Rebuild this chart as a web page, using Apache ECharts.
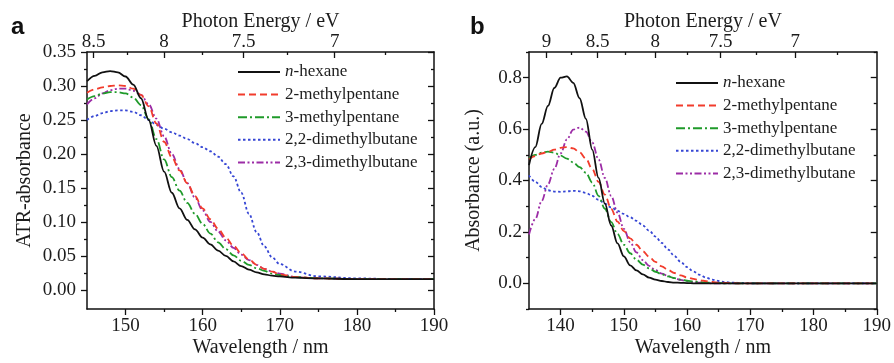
<!DOCTYPE html>
<html>
<head>
<meta charset="utf-8">
<script src="https://cdn.jsdelivr.net/npm/echarts@6/dist/echarts.min.js"></script>
<style>html,body{margin:0;padding:0;background:#fff;}#c{width:894px;height:363px;}</style>
</head>
<body>
<div id="c"></div>
<script>
// ---------- data ----------
const HC = 1239.84; // eV*nm
const seriesNames = ['n-hexane', '2-methylpentane', '3-methylpentane', '2,2-dimethylbutane', '2,3-dimethylbutane'];

// Panel a (ATR-absorbance)
const wlA = [145,146,147,148,149,150,151,152,153,154,155,156,157,158,159,160,161,162,163,164,165,166,167,168,169,170,172,175,180,185,190];
const hexaneA = [0.307,0.315,0.320,0.322,0.320,0.314,0.302,0.282,0.250,0.212,0.174,0.143,0.120,0.103,0.089,0.077,0.067,0.058,0.050,0.042,0.035,0.030,0.026,0.023,0.021,0.020,0.018,0.017,0.016,0.016,0.016];
const mp2A    = [0.290,0.295,0.298,0.300,0.301,0.300,0.296,0.287,0.270,0.245,0.218,0.195,0.176,0.157,0.138,0.120,0.104,0.090,0.077,0.065,0.054,0.045,0.037,0.031,0.027,0.023,0.019,0.017,0.016,0.016,0.016];
const mp3A    = [0.280,0.285,0.289,0.291,0.291,0.289,0.283,0.272,0.251,0.222,0.192,0.166,0.146,0.128,0.112,0.097,0.083,0.070,0.060,0.051,0.043,0.037,0.032,0.028,0.024,0.022,0.019,0.017,0.016,0.016,0.016];
const dmb22A  = [0.250,0.256,0.260,0.263,0.264,0.264,0.262,0.257,0.250,0.243,0.237,0.232,0.227,0.222,0.216,0.210,0.204,0.196,0.185,0.167,0.143,0.112,0.085,0.064,0.048,0.038,0.027,0.020,0.017,0.016,0.016];
const dmb23A  = [0.273,0.282,0.289,0.294,0.296,0.296,0.293,0.287,0.273,0.252,0.226,0.200,0.178,0.157,0.136,0.117,0.100,0.086,0.073,0.062,0.052,0.044,0.037,0.031,0.027,0.024,0.019,0.017,0.016,0.016,0.016];

// Panel b (Absorbance)
const wlB = [135,136,137,138,139,140,141,142,143,144,145,146,147,148,149,150,151,152,153,154,155,156,157,158,159,160,161,162,163,164,165,166,167,168,169,170,175,180,185,190];
const hexaneB = [0.46,0.53,0.62,0.69,0.76,0.80,0.805,0.78,0.72,0.64,0.52,0.41,0.31,0.225,0.155,0.105,0.07,0.05,0.035,0.022,0.014,0.009,0.005,0.003,0.002,0.001,0,0,0,0,0,0,0,0,0,0,0,0,0,0];
const mp2B    = [0.482,0.495,0.505,0.512,0.520,0.527,0.530,0.525,0.510,0.485,0.445,0.395,0.345,0.290,0.240,0.203,0.175,0.150,0.125,0.103,0.083,0.066,0.052,0.040,0.031,0.023,0.017,0.012,0.008,0.005,0.003,0.002,0.001,0,0,0,0,0,0,0];
const mp3B    = [0.485,0.500,0.508,0.512,0.508,0.497,0.485,0.470,0.452,0.430,0.392,0.340,0.290,0.238,0.192,0.150,0.117,0.092,0.073,0.058,0.045,0.035,0.027,0.020,0.014,0.010,0.007,0.005,0.003,0.002,0.001,0,0,0,0,0,0,0,0,0];
const dmb22B  = [0.420,0.395,0.375,0.362,0.357,0.356,0.358,0.360,0.358,0.352,0.340,0.325,0.310,0.295,0.282,0.270,0.257,0.243,0.225,0.205,0.182,0.157,0.131,0.106,0.083,0.063,0.046,0.033,0.022,0.014,0.009,0.005,0.003,0.002,0.001,0,0,0,0,0];
const dmb23B  = [0.19,0.25,0.32,0.385,0.445,0.505,0.56,0.598,0.606,0.590,0.548,0.482,0.410,0.340,0.275,0.212,0.160,0.120,0.090,0.068,0.051,0.038,0.028,0.020,0.013,0.008,0.005,0.003,0.001,0,0,0,0,0,0,0,0,0,0,0];

// tick labels
const wlTicksA = [150,160,170,180,190];
const wlMinorA = [155,165,175,185];
const wlTicksB = [140,150,160,170,180,190];
const wlMinorB = [145,155,165,175,185];
const eTicksA = [8.5,8,7.5,7];
const eMinorA = [8.25,7.75,7.25,6.75];
const eTicksB = [9,8.5,8,7.5,7];
const eMinorB = [8.75,8.25,7.75,7.25,6.75];
const yTicksA = [0,0.05,0.10,0.15,0.20,0.25,0.30,0.35];
const yMinorA = [0.025,0.075,0.125,0.175,0.225,0.275,0.325];
const yTicksB = [0,0.2,0.4,0.6,0.8];
const yMinorB = [-0.1,0.1,0.3,0.5,0.7,0.9];

// ---------- styling ----------
const FONT = '"Liberation Serif", "Times New Roman", serif';
const TXT = '#1c1c1c';
const AX = '#111';
const styles = [
  {color:'#111111', type:'solid'},
  {color:'#f23c2c', type:[7,4]},
  {color:'#1f9a2a', type:[9,3,2,3]},
  {color:'#3646d4', type:[2.5,2.5]},
  {color:'#9c2ca6', type:[7,2.5,2,2.5,2,2.5]}
];

function fmtE(v){ const e = Math.round(HC / v * 4) / 4; return String(e); }

function buildAxes(gi, xr, wlT, wlM, eT, eM, yr, yT, yM, yName, yGap, yMargin, dec){
  const line = {show:true, onZero:false, lineStyle:{color:AX, width:1.5}};
  const noLine = {show:false, onZero:false};
  const tickStyle = {color:AX, width:1.3};
  const base = {gridIndex:gi, type:'value', splitLine:{show:false}};
  const xs = [
    Object.assign({}, base, {position:'bottom', min:xr[0], max:xr[1],
      name:'Wavelength / nm', nameLocation:'middle', nameGap:29, nameMoveOverlap:false,
      nameTextStyle:{fontFamily:FONT, fontSize:20, color:TXT},
      axisLine:line, axisTick:{show:true, inside:false, length:6, customValues:wlT, lineStyle:tickStyle},
      axisLabel:{show:true, customValues:wlT, margin:8, fontFamily:FONT, fontSize:19, color:TXT}}),
    Object.assign({}, base, {position:'bottom', min:xr[0], max:xr[1],
      axisLine:noLine, axisTick:{show:true, inside:false, length:3, customValues:wlM, lineStyle:tickStyle},
      axisLabel:{show:false}}),
    Object.assign({}, base, {position:'top', min:xr[0], max:xr[1],
      name:'Photon Energy / eV', nameLocation:'middle', nameGap:20, nameMoveOverlap:false,
      nameTextStyle:{fontFamily:FONT, fontSize:20, color:TXT},
      axisLine:line, axisTick:{show:true, inside:true, length:6, customValues:eT.map(e=>HC/e), lineStyle:tickStyle},
      axisLabel:{show:true, customValues:eT.map(e=>HC/e), formatter:fmtE, margin:0, fontFamily:FONT, fontSize:19, color:TXT}}),
    Object.assign({}, base, {position:'top', min:xr[0], max:xr[1],
      axisLine:noLine, axisTick:{show:true, inside:true, length:3, customValues:eM.map(e=>HC/e), lineStyle:tickStyle},
      axisLabel:{show:false}})
  ];
  const ys = [
    Object.assign({}, base, {position:'left', min:yr[0], max:yr[1],
      name:yName, nameLocation:'middle', nameGap:yGap, nameRotate:90, nameMoveOverlap:false,
      nameTextStyle:{fontFamily:FONT, fontSize:20, color:TXT},
      axisLine:line, axisTick:{show:true, inside:false, length:6, customValues:yT, lineStyle:tickStyle},
      axisLabel:{show:true, customValues:yT, formatter:v=>v.toFixed(dec), margin:yMargin, fontFamily:FONT, fontSize:19, color:TXT}}),
    Object.assign({}, base, {position:'left', min:yr[0], max:yr[1],
      axisLine:noLine, axisTick:{show:true, inside:false, length:3, customValues:yM, lineStyle:tickStyle},
      axisLabel:{show:false}}),
    Object.assign({}, base, {position:'right', min:yr[0], max:yr[1],
      axisLine:line, axisTick:{show:true, inside:true, length:6, customValues:yT, lineStyle:tickStyle},
      axisLabel:{show:false}}),
    Object.assign({}, base, {position:'right', min:yr[0], max:yr[1],
      axisLine:noLine, axisTick:{show:true, inside:true, length:3, customValues:yM, lineStyle:tickStyle},
      axisLabel:{show:false}})
  ];
  return {xs, ys};
}

const axA = buildAxes(0, [145,190], wlTicksA, wlMinorA, eTicksA, eMinorA, [-0.028,0.35], yTicksA, yMinorA, 'ATR-absorbance', 52, 11, 2);
const axB = buildAxes(1, [135,190], wlTicksB, wlMinorB, eTicksB, eMinorB, [-0.1,0.9], yTicksB, yMinorB, 'Absorbance (a.u.)', 45, 7, 1);

function mkSeries(wl, arrays, xi, yi){
  return arrays.map((vals, k) => ({
    name: seriesNames[k], type:'line', xAxisIndex:xi, yAxisIndex:yi,
    data: wl.map((x,i)=>[x, vals[i]]),
    symbol:'none', smooth:0.35, smoothMonotone:'x', z: 10 - k,
    lineStyle:{color:styles[k].color, type:styles[k].type, width:1.8},
    itemStyle:{color:styles[k].color}
  }));
}

const series = [].concat(
  mkSeries(wlA, [hexaneA, mp2A, mp3A, dmb22A, dmb23A], 0, 0),
  mkSeries(wlB, [hexaneB, mp2B, mp3B, dmb22B, dmb23B], 4, 4)
);

function legendAt(left, top){
  return {
    left:left, top:top, orient:'vertical', padding:0, itemWidth:42, itemHeight:10, itemGap:4.6,
    data: seriesNames, selectedMode:false,
    itemStyle:{opacity:0, borderWidth:0},
    formatter: n => n === 'n-hexane' ? '{i|n}-hexane' : n,
    textStyle:{fontFamily:FONT, fontSize:17, color:TXT, lineHeight:18,
      rich:{i:{fontFamily:FONT, fontSize:17, fontStyle:'italic', color:TXT, lineHeight:18}}}
  };
}

const chart = echarts.init(document.getElementById('c'), null, {renderer:'canvas'});
chart.setOption({
  backgroundColor:'#fff',
  animation:false,
  grid:[
    {left:87, top:52, width:347, height:259, containLabel:false},
    {left:529, top:52, width:349, height:259, containLabel:false}
  ],
  xAxis: axA.xs.concat(axB.xs),
  yAxis: axA.ys.concat(axB.ys),
  legend:[legendAt(237, 63), legendAt(675, 74)],
  graphic:[
    {type:'text', left:11, top:15, style:{text:'a', font:'bold 24px "Liberation Sans", Arial, sans-serif', fill:'#111'}},
    {type:'text', left:470, top:15, style:{text:'b', font:'bold 24px "Liberation Sans", Arial, sans-serif', fill:'#111'}}
  ],
  series: series
});
</script>
</body>
</html>
